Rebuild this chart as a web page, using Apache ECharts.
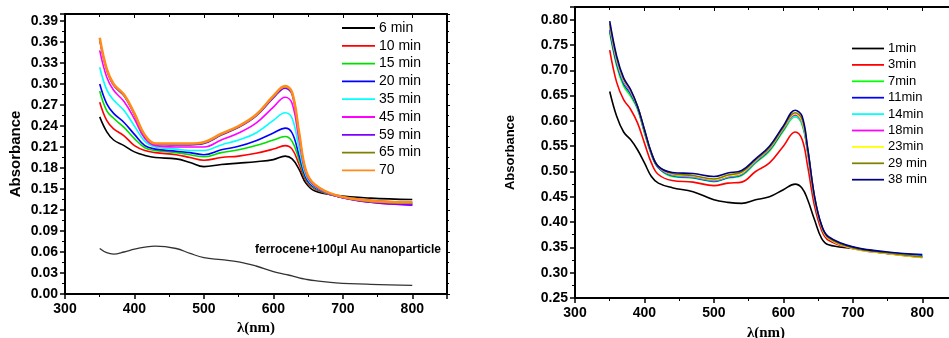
<!DOCTYPE html>
<html>
<head>
<meta charset="utf-8">
<script src="https://cdn.jsdelivr.net/npm/echarts@6/dist/echarts.min.js"></script>
<style>
  html, body { margin: 0; padding: 0; background: #fff; }
  #chart { width: 949px; height: 338px; }
</style>
</head>
<body>
<div id="chart"></div>
<script>
// left panel: wavelengths (nm) and absorbance per time
const leftWl = [350, 360, 370, 385, 400, 415, 430, 460, 480, 500, 525, 550, 575, 600, 617, 627, 637, 647, 660, 690, 740, 800];
const leftNames = ["6 min", "10 min", "15 min", "20 min", "35 min", "45 min", "59 min", "65 min", "70"];
const leftColors = ["#000000", "#ff0000", "#00e000", "#0000ff", "#00ffff", "#ff00ff", "#8000ff", "#808000", "#ff8c1a"];
const left6 = [0.253, 0.232, 0.220, 0.212, 0.203, 0.198, 0.195, 0.193, 0.188, 0.182, 0.185, 0.187, 0.189, 0.192, 0.197, 0.193, 0.178, 0.158, 0.147, 0.141, 0.137, 0.135];
const left10 = [0.274, 0.248, 0.236, 0.226, 0.212, 0.205, 0.202, 0.199, 0.195, 0.191, 0.195, 0.197, 0.201, 0.207, 0.212, 0.207, 0.185, 0.162, 0.150, 0.140, 0.134, 0.131];
const left15 = [0.290, 0.262, 0.251, 0.238, 0.222, 0.209, 0.205, 0.202, 0.199, 0.196, 0.202, 0.206, 0.212, 0.220, 0.225, 0.218, 0.192, 0.164, 0.151, 0.140, 0.133, 0.129];
const left20 = [0.300, 0.272, 0.258, 0.245, 0.228, 0.212, 0.207, 0.204, 0.202, 0.199, 0.206, 0.211, 0.219, 0.230, 0.237, 0.230, 0.198, 0.166, 0.152, 0.140, 0.132, 0.128];
const left35 = [0.324, 0.292, 0.277, 0.262, 0.240, 0.218, 0.210, 0.207, 0.205, 0.205, 0.213, 0.220, 0.230, 0.248, 0.259, 0.251, 0.208, 0.169, 0.153, 0.140, 0.132, 0.128];
const left45 = [0.348, 0.310, 0.291, 0.275, 0.250, 0.222, 0.212, 0.210, 0.210, 0.210, 0.220, 0.230, 0.244, 0.267, 0.281, 0.272, 0.220, 0.172, 0.154, 0.140, 0.131, 0.127];
const left59 = [0.363, 0.320, 0.298, 0.283, 0.256, 0.225, 0.214, 0.213, 0.213, 0.215, 0.227, 0.238, 0.254, 0.280, 0.294, 0.285, 0.228, 0.174, 0.155, 0.140, 0.131, 0.127];
const left65 = [0.364, 0.321, 0.299, 0.284, 0.257, 0.226, 0.215, 0.214, 0.214, 0.216, 0.228, 0.239, 0.255, 0.282, 0.296, 0.287, 0.230, 0.175, 0.156, 0.141, 0.132, 0.130];
const left70 = [0.366, 0.322, 0.300, 0.285, 0.258, 0.227, 0.215, 0.215, 0.215, 0.217, 0.229, 0.240, 0.256, 0.283, 0.297, 0.288, 0.231, 0.176, 0.156, 0.141, 0.133, 0.131];
const ferrocene = [0.065, 0.059, 0.057, 0.060, 0.064, 0.067, 0.0685, 0.065, 0.058, 0.052, 0.049, 0.046, 0.040, 0.032, 0.028, 0.026, 0.023, 0.021, 0.019, 0.016, 0.0138, 0.0124];
const leftValues = [left6, left10, left15, left20, left35, left45, left59, left65, left70];

// right panel
const rightWl = [350, 360, 370, 380, 390, 400, 410, 420, 440, 470, 500, 520, 540, 560, 580, 600, 617, 627, 635, 645, 655, 665, 700, 750, 800];
const rightNames = ["1min", "3min", "7min", "11min", "14min", "18min", "23min", "29 min", "38 min"];
const rightColors = ["#000000", "#ff0000", "#00ff00", "#0000ff", "#00ffff", "#ff00ff", "#ffff00", "#808000", "#000080"];
const right1 = [0.658, 0.609, 0.578, 0.563, 0.543, 0.517, 0.490, 0.477, 0.468, 0.460, 0.444, 0.439, 0.437, 0.444, 0.450, 0.464, 0.475, 0.467, 0.444, 0.404, 0.368, 0.355, 0.348, 0.338, 0.331];
const right3 = [0.740, 0.676, 0.642, 0.623, 0.596, 0.556, 0.517, 0.494, 0.482, 0.479, 0.472, 0.477, 0.479, 0.500, 0.517, 0.550, 0.578, 0.563, 0.510, 0.431, 0.384, 0.364, 0.348, 0.338, 0.330];
const right7 = [0.775, 0.709, 0.669, 0.649, 0.623, 0.576, 0.533, 0.507, 0.490, 0.487, 0.480, 0.487, 0.492, 0.517, 0.540, 0.580, 0.608, 0.592, 0.537, 0.444, 0.391, 0.368, 0.350, 0.340, 0.333];
const right11 = [0.780, 0.714, 0.674, 0.654, 0.626, 0.579, 0.535, 0.508, 0.492, 0.488, 0.481, 0.488, 0.494, 0.519, 0.543, 0.583, 0.611, 0.596, 0.540, 0.446, 0.392, 0.369, 0.350, 0.340, 0.334];
const right14 = [0.786, 0.718, 0.677, 0.657, 0.627, 0.580, 0.535, 0.509, 0.493, 0.489, 0.482, 0.489, 0.495, 0.520, 0.544, 0.584, 0.609, 0.595, 0.540, 0.446, 0.392, 0.368, 0.349, 0.339, 0.332];
const right18 = [0.788, 0.720, 0.679, 0.658, 0.628, 0.581, 0.536, 0.509, 0.494, 0.490, 0.483, 0.490, 0.496, 0.521, 0.545, 0.585, 0.612, 0.598, 0.542, 0.447, 0.392, 0.368, 0.348, 0.338, 0.331];
const right23 = [0.790, 0.722, 0.681, 0.660, 0.629, 0.582, 0.537, 0.510, 0.495, 0.491, 0.484, 0.491, 0.497, 0.522, 0.546, 0.586, 0.614, 0.600, 0.543, 0.448, 0.392, 0.368, 0.348, 0.338, 0.330];
const right29 = [0.792, 0.724, 0.683, 0.661, 0.629, 0.582, 0.537, 0.510, 0.496, 0.492, 0.485, 0.493, 0.499, 0.523, 0.547, 0.587, 0.616, 0.603, 0.544, 0.449, 0.393, 0.369, 0.349, 0.339, 0.331];
const right38 = [0.797, 0.728, 0.685, 0.662, 0.629, 0.583, 0.537, 0.510, 0.498, 0.496, 0.490, 0.497, 0.502, 0.525, 0.550, 0.590, 0.621, 0.609, 0.546, 0.450, 0.394, 0.371, 0.351, 0.341, 0.336];
const rightValues = [right1, right3, right7, right11, right14, right18, right23, right29, right38];

const sans = "Liberation Sans";

const pairs = (wl, vals) => wl.map((w, i) => [w, vals[i]]);

const xBase = (grid) => ({
  type: "value",
  gridIndex: grid,
  min: 300,
  max: 850,
  interval: 100,
  splitLine: { show: false },
});

const bottomX = (grid, nameGap) => ({
  ...xBase(grid),
  position: "bottom",
  name: "λ(nm)",
  nameLocation: "middle",
  nameGap: nameGap,
  nameTextStyle: { fontFamily: "Liberation Serif", fontWeight: "bold", fontSize: 15, color: "#000" },
  axisLine: { onZero: false, lineStyle: { color: "#000", width: 2 } },
  axisTick: { inside: false, length: 5, lineStyle: { color: "#000", width: 1.5 } },
  minorTick: { show: true, splitNumber: 2, length: 3, lineStyle: { color: "#000" } },
  axisLabel: { fontFamily: sans, fontWeight: "bold", fontSize: 14, color: "#000", margin: 8, showMaxLabel: false },
});

const topX = (grid) => ({
  ...xBase(grid),
  position: "top",
  axisLine: { onZero: false, lineStyle: { color: "#000", width: 2 } },
  axisTick: { inside: true, length: 4, lineStyle: { color: "#000" } },
  minorTick: { show: true, splitNumber: 2, length: 3, lineStyle: { color: "#000" } },
  axisLabel: { show: false },
});

const leftY = (grid, min, max, interval, nameGap, nameSize) => ({
  type: "value",
  gridIndex: grid,
  position: "left",
  min: min,
  max: max,
  interval: interval,
  name: "Absorbance",
  nameLocation: "middle",
  nameGap: nameGap,
  nameTextStyle: { fontFamily: sans, fontWeight: "bold", fontSize: nameSize, color: "#000" },
  splitLine: { show: false },
  axisLine: { onZero: false, lineStyle: { color: "#000", width: 2 } },
  axisTick: { inside: false, length: 5, lineStyle: { color: "#000", width: 1.5 } },
  minorTick: { show: true, splitNumber: 2, length: 3, lineStyle: { color: "#000" } },
  axisLabel: {
    fontFamily: sans, fontWeight: "bold", fontSize: 14, color: "#000", margin: 7,
    showMaxLabel: false,
    formatter: (v) => v.toFixed(2),
  },
});

const rightY = (grid, min, max, interval) => ({
  type: "value",
  gridIndex: grid,
  position: "right",
  min: min,
  max: max,
  interval: interval,
  splitLine: { show: false },
  axisLine: { onZero: false, lineStyle: { color: "#000", width: 2 } },
  axisTick: { inside: false, length: 3, lineStyle: { color: "#000" } },
  minorTick: { show: true, splitNumber: 2, length: 2, lineStyle: { color: "#000" } },
  axisLabel: { show: false },
});

const makeSeries = (names, colors, values, wl, axisIdx) =>
  names.map((n, i) => ({
    name: n,
    type: "line",
    xAxisIndex: axisIdx,
    yAxisIndex: axisIdx,
    data: pairs(wl, values[i]),
    smooth: 0.4,
    symbol: "none",
    color: colors[i],
    lineStyle: { width: n === "70" ? 2.5 : 1.6 },
    z: 3 + i,
  }));

const series = [
  ...makeSeries(leftNames, leftColors, leftValues, leftWl, 0),
  {
    name: "ferrocene",
    type: "line",
    xAxisIndex: 0,
    yAxisIndex: 0,
    data: pairs(leftWl, ferrocene),
    smooth: 0.4,
    symbol: "none",
    color: "#333",
    lineStyle: { width: 1.3 },
  },
  ...makeSeries(rightNames, rightColors, rightValues, rightWl, 2),
];

const lineIcon = "path://M0,0H33V1.8H0Z";

const chart = echarts.init(document.getElementById("chart"), null, { renderer: "canvas" });
chart.setOption({
  animation: false,
  backgroundColor: "#fff",
  grid: [
    { left: 65, top: 14, width: 382, height: 280, outerBoundsMode: "none" },
    { left: 575, top: 7, width: 382, height: 291, outerBoundsMode: "none" },
  ],
  xAxis: [bottomX(0, 27), topX(0), bottomX(1, 28), topX(1)],
  yAxis: [
    leftY(0, 0, 0.40, 0.03, 42, 15),
    rightY(0, 0, 0.40, 0.03),
    leftY(1, 0.25, 0.825, 0.05, 58, 13),
    rightY(1, 0.25, 0.825, 0.05),
  ],
  legend: [
    {
      data: leftNames,
      orient: "vertical",
      left: 337,
      top: 16,
      icon: lineIcon,
      itemWidth: 33,
      itemHeight: 14,
      itemGap: 3.8,
      textStyle: { fontFamily: sans, fontSize: 14, color: "#000", padding: [0, 0, 0, -1] },
    },
    {
      data: rightNames,
      orient: "vertical",
      left: 847,
      top: 37,
      icon: lineIcon,
      itemWidth: 32,
      itemHeight: 13,
      itemGap: 3.4,
      textStyle: { fontFamily: sans, fontSize: 13, color: "#000", padding: [0, 0, 0, -1] },
    },
  ],
  graphic: [
    {
      type: "text",
      left: 255,
      top: 244,
      style: {
        text: "ferrocene+100µl Au nanoparticle",
        font: "bold 12px 'Liberation Sans'",
        fill: "#000",
      },
    },
  ],
  series: series,
});
</script>
</body>
</html>
